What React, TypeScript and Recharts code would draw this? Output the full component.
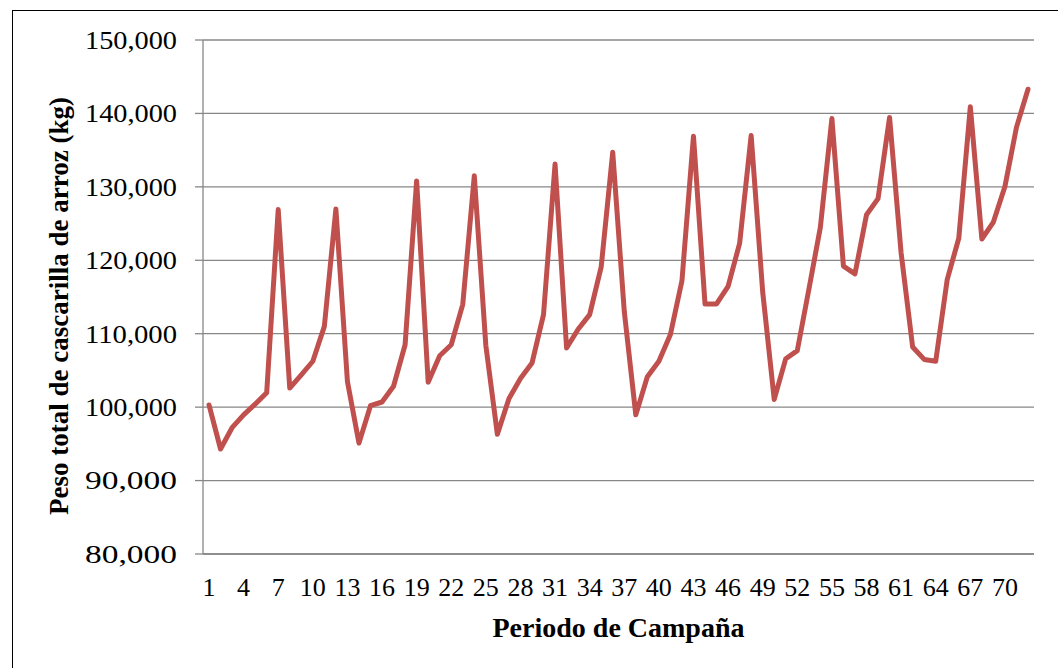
import React from "react";
import { LineChart, Line, XAxis, YAxis, CartesianGrid, Label } from "recharts";

// periodo de campaña
const periodos = [
  1, 2, 3, 4, 5, 6, 7, 8, 9, 10, 11, 12, 13, 14, 15, 16, 17, 18, 19, 20, 21, 22, 23, 24,
  25, 26, 27, 28, 29, 30, 31, 32, 33, 34, 35, 36, 37, 38, 39, 40, 41, 42, 43, 44, 45, 46, 47, 48,
  49, 50, 51, 52, 53, 54, 55, 56, 57, 58, 59, 60, 61, 62, 63, 64, 65, 66, 67, 68, 69, 70, 71, 72,
];

// peso total de cascarilla (kg)
const pesoKg = [
  100300, 94300, 97200, 98950, 100400, 101950, 126900, 102600, 104400, 106250, 111000, 127000,
  103500, 95100, 100200, 100700, 102850, 108500, 130800, 103400, 107000, 108500, 114000, 131500,
  108400, 96300, 101150, 103900, 106000, 112600, 133100, 108050, 110600, 112600, 119100, 134700,
  113050, 98950, 104150, 106250, 109900, 117200, 136900, 114050, 114050, 116450, 122300, 137000,
  115700, 101050, 106600, 107700, 116000, 124500, 139300, 119200, 118150, 126200, 128400, 139450,
  121000, 108200, 106500, 106250, 117400, 123000, 140900, 122900, 125200, 130050, 138100, 143300,
];

const xTicks = [1, 4, 7, 10, 13, 16, 19, 22, 25, 28, 31, 34, 37, 40, 43, 46, 49, 52, 55, 58, 61, 64, 67, 70];
const yTicks = [80000, 90000, 100000, 110000, 120000, 130000, 140000, 150000];

const data = periodos.map((p, i) => ({ periodo: p, peso: pesoKg[i] }));

const FONT = '"Liberation Serif", "Times New Roman", serif';
const GRID = "#878787";

const fmt = (v: number) => v.toLocaleString("en-US");

function YTick(props: any) {
  const { x, y, payload } = props;
  return (
    <text
      x={x}
      y={y}
      dy="0.355em"
      textAnchor="end"
      fontFamily={FONT}
      fontSize={25}
      fill="#000"
      textLength={92}
      lengthAdjust="spacingAndGlyphs"
    >
      {fmt(payload.value)}
    </text>
  );
}

export default function App() {
  return (
    <div
      style={{
        position: "fixed",
        left: 0,
        top: 0,
        width: 1058,
        height: 668,
        overflow: "hidden",
        background: "#fff",
      }}
    >
      <div
        style={{
          position: "absolute",
          left: 12,
          top: 10,
          width: 1200,
          height: 800,
          border: "1.5px solid #000",
        }}
      />
      <div style={{ position: "absolute", left: 0, top: 0 }}>
        <LineChart
          width={1058}
          height={668}
          data={data}
          margin={{ top: 40, right: 24, bottom: 54, left: 0 }}
        >
          <CartesianGrid vertical={false} stroke={GRID} strokeWidth={1.3} />
          <XAxis
            dataKey="periodo"
            ticks={xTicks}
            interval={0}
            padding={{ left: 6, right: 6 }}
            height={60}
            tickLine={false}
            tickSize={0}
            tickMargin={24}
            axisLine={{ stroke: GRID, strokeWidth: 1.3 }}
            tick={{ fontFamily: FONT, fontSize: 26, fill: "#000" }}
          >
            <Label
              content={() => (
                <text
                  x={618.5}
                  y={637}
                  textAnchor="middle"
                  fontFamily={FONT}
                  fontSize={28}
                  fontWeight="bold"
                  fill="#000"
                >
                  Periodo de Campaña
                </text>
              )}
            />
          </XAxis>
          <YAxis
            width={203}
            domain={[80000, 150000]}
            ticks={yTicks}
            interval={0}
            tickSize={8}
            tickMargin={18}
            tickLine={{ stroke: GRID, strokeWidth: 1.3 }}
            axisLine={{ stroke: GRID, strokeWidth: 1.3 }}
            tick={<YTick />}
          >
            <Label
              content={() => (
                <text
                  x={68}
                  y={306}
                  transform="rotate(-90 68 306)"
                  textAnchor="middle"
                  fontFamily={FONT}
                  fontSize={27}
                  fontWeight="bold"
                  fill="#000"
                >
                  Peso total de cascarilla de arroz (kg)
                </text>
              )}
            />
          </YAxis>
          <Line
            type="linear"
            dataKey="peso"
            stroke="#C0504D"
            strokeWidth={5}
            strokeLinejoin="round"
            strokeLinecap="round"
            dot={false}
            activeDot={false}
            isAnimationActive={false}
          />
        </LineChart>
      </div>
    </div>
  );
}
